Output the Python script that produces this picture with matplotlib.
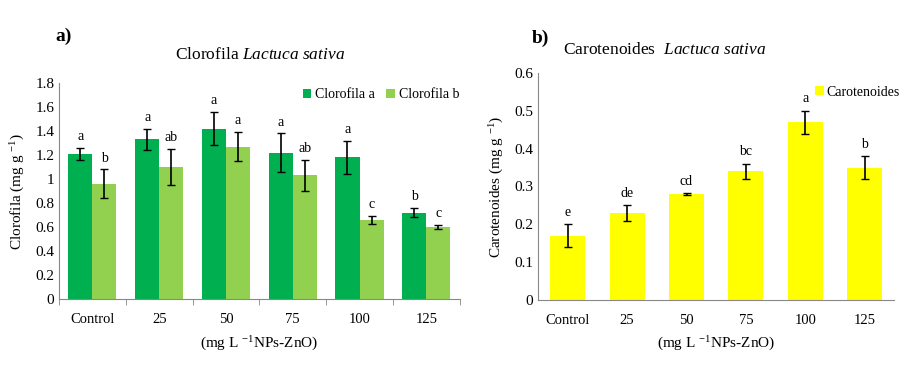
import matplotlib
matplotlib.use('Agg')
import matplotlib.pyplot as plt
import numpy as np

plt.rcParams['font.family'] = ['Liberation Serif', 'DejaVu Serif']
plt.rcParams['mathtext.fontset'] = 'custom'
plt.rcParams['mathtext.rm'] = 'Liberation Serif'
plt.rcParams['mathtext.it'] = 'Liberation Serif:italic'

categories = ['Control', '25', '50', '75', '100', '125']

clor_a = [1.21, 1.33, 1.42, 1.22, 1.18, 0.72]
clor_a_err = [0.05, 0.09, 0.14, 0.16, 0.14, 0.04]
clor_a_letters = ['a', 'a', 'a', 'a', 'a', 'b']

clor_b = [0.96, 1.10, 1.27, 1.03, 0.66, 0.60]
clor_b_err = [0.12, 0.15, 0.12, 0.13, 0.035, 0.02]
clor_b_letters = ['b', 'ab', 'a', 'ab', 'c', 'c']

carot = [0.17, 0.23, 0.28, 0.34, 0.47, 0.35]
carot_err = [0.03, 0.02, 0.002, 0.02, 0.03, 0.03]
carot_letters = ['e', 'de', 'cd', 'bc', 'a', 'b']

dark_green = '#00B050'
light_green = '#92D050'
yellow = '#FFFF00'


def style_axes(ax):
    for s in ['top', 'right']:
        ax.spines[s].set_visible(False)
    ax.spines['left'].set_color('#888888')
    ax.spines['bottom'].set_color('#888888')
    ax.tick_params(axis='y', length=0, labelsize=11)
    ax.tick_params(axis='x', length=0, labelsize=10.5, pad=10)


def main():
    fig = plt.figure(figsize=(9.23, 3.81), dpi=100)
    x = np.arange(len(categories))

    ## Panel a) chlorophyll
    ax1 = fig.add_axes([0.064, 0.215, 0.434, 0.567])
    w = 0.36
    ax1.bar(x - w / 2, clor_a, w, color=dark_green, label='Clorofila a')
    ax1.bar(x + w / 2, clor_b, w, color=light_green, label='Clorofila b')
    ax1.errorbar(x - w / 2, clor_a, yerr=clor_a_err, fmt='none', ecolor='black', elinewidth=1.2, capsize=3)
    ax1.errorbar(x + w / 2, clor_b, yerr=clor_b_err, fmt='none', ecolor='black', elinewidth=1.2, capsize=3)
    for i in range(len(categories)):
        ax1.text(x[i] - w / 2, clor_a[i] + clor_a_err[i] + 0.04, clor_a_letters[i], ha='center', va='bottom', fontsize=10)
        ax1.text(x[i] + w / 2, clor_b[i] + clor_b_err[i] + 0.04, clor_b_letters[i], ha='center', va='bottom', fontsize=10)
    ax1.set_xlim(-0.5, 5.5)
    ax1.set_ylim(0, 1.8)
    ax1.set_yticks(np.arange(0, 1.81, 0.2))
    ax1.set_yticklabels(['0', '0.2', '0.4', '0.6', '0.8', '1', '1.2', '1.4', '1.6', '1.8'])
    ax1.set_xticks(x)
    ax1.set_xticklabels(categories)
    style_axes(ax1)
    ax1.set_xticks(np.arange(-0.5, 5.6, 1), minor=True)
    ax1.tick_params(axis='x', which='minor', length=4, color='#888888')
    ax1.set_xlabel(r'(mg L $^{-1}$NPs-ZnO)', fontsize=11, labelpad=6)
    ax1.set_ylabel(r'Clorofila (mg g $^{-1}$)', fontsize=11, labelpad=6)
    ax1.legend(loc='upper right', bbox_to_anchor=(1.03, 1.035), ncol=2, frameon=False, fontsize=10,
               handlelength=0.6, handleheight=0.6, handletextpad=0.3, columnspacing=0.8)
    fig.text(0.282, 0.855, r'Clorofila $\it{Lactuca\ sativa}$', ha='center', va='center', fontsize=12.5)
    fig.text(0.060, 0.905, 'a)', ha='left', va='center', fontsize=14, fontweight='bold')

    ## Panel b) carotenoids
    ax2 = fig.add_axes([0.583, 0.213, 0.386, 0.595])
    ax2.bar(x, carot, 0.59, color=yellow, label='Carotenoides')
    ax2.errorbar(x, carot, yerr=carot_err, fmt='none', ecolor='black', elinewidth=1.2, capsize=3)
    for i in range(len(categories)):
        ax2.text(x[i], carot[i] + carot_err[i] + 0.015, carot_letters[i], ha='center', va='bottom', fontsize=10)
    ax2.set_xlim(-0.5, 5.5)
    ax2.set_ylim(0, 0.6)
    ax2.set_yticks(np.arange(0, 0.61, 0.1))
    ax2.set_yticklabels(['0', '0.1', '0.2', '0.3', '0.4', '0.5', '0.6'])
    ax2.set_xticks(x)
    ax2.set_xticklabels(categories)
    style_axes(ax2)
    ax2.set_xlabel(r'(mg L $^{-1}$NPs-ZnO)', fontsize=11, labelpad=6)
    ax2.set_ylabel(r'Carotenoides (mg g $^{-1}$)', fontsize=11, labelpad=6)
    ax2.legend(loc='upper right', bbox_to_anchor=(1.05, 1.0), frameon=False, fontsize=10,
               handlelength=0.6, handleheight=0.6, handletextpad=0.2)
    fig.text(0.72, 0.868, r'Carotenoides  $\it{Lactuca\ sativa}$', ha='center', va='center', fontsize=12.5)
    fig.text(0.576, 0.90, 'b)', ha='left', va='center', fontsize=14, fontweight='bold')

    fig.savefig('out.png', dpi=100)


if __name__ == "__main__":
    main()
